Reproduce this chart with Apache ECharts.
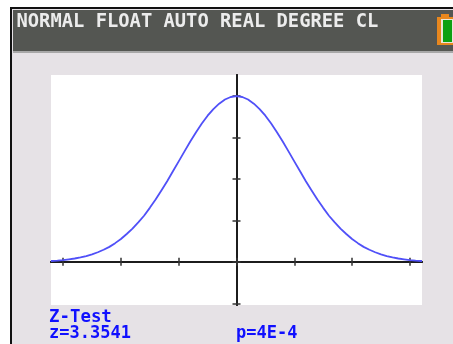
<!DOCTYPE html>
<html><head><meta charset="utf-8">
<style>html,body{margin:0;padding:0;background:#fff}#c{width:453px;height:344px}</style>
<script src="https://cdn.jsdelivr.net/npm/echarts@6/dist/echarts.min.js"></script>
</head><body><div id="c"></div>
<script>
const statusText = "NORMAL FLOAT AUTO REAL DEGREE CL";
const testName = "Z-Test";
const zText = "z=3.3541";
const pText = "p=4E-4";
const xValues = [-3.21,-3.1,-3,-2.9,-2.8,-2.7,-2.6,-2.5,-2.4,-2.3,-2.2,-2.1,-2,-1.9,-1.8,-1.7,-1.6,-1.5,-1.4,-1.3,-1.2,-1.1,-1,-0.9,-0.8,-0.7,-0.6,-0.5,-0.4,-0.3,-0.2,-0.1,0,0.1,0.2,0.3,0.4,0.5,0.6,0.7,0.8,0.9,1,1.1,1.2,1.3,1.4,1.5,1.6,1.7,1.8,1.9,2,2.1,2.2,2.3,2.4,2.5,2.6,2.7,2.8,2.9,3,3.1,3.21];
const yValues = [0.002,0.003,0.004,0.006,0.008,0.0105,0.014,0.018,0.023,0.029,0.036,0.045,0.055,0.067,0.08,0.095,0.111,0.13,0.15,0.172,0.194,0.218,0.242,0.266,0.29,0.312,0.333,0.352,0.368,0.381,0.391,0.397,0.399,0.397,0.391,0.381,0.368,0.352,0.333,0.312,0.29,0.266,0.242,0.218,0.194,0.172,0.15,0.13,0.111,0.095,0.08,0.067,0.055,0.045,0.036,0.029,0.023,0.018,0.014,0.0105,0.008,0.006,0.004,0.003,0.002];
const xTicks = [-3,-2,-1,0,1,2,3];
const yTicks = [-0.1,0,0.1,0.2,0.3,0.4];

const chart = echarts.init(document.getElementById('c'), null, {renderer:'canvas'});
const axisColor = '#1c1c1c';
const mono = '"DejaVu Sans Mono", monospace';
function xAx(inside){return {type:'value',min:-3.21,max:3.21,position:inside?'top':'bottom',
  axisLine:{show:true,onZero:true,lineStyle:{color:axisColor,width:2}},
  axisTick:{show:true,customValues:xTicks,length:4,lineStyle:{color:'#333',width:1.5}},
  axisLabel:{show:false},splitLine:{show:false}};}
function yAx(inside){return {type:'value',min:-0.104,max:0.45,position:inside?'right':'left',
  axisLine:{show:true,onZero:true,lineStyle:{color:axisColor,width:2}},
  axisTick:{show:true,customValues:yTicks,length:4,lineStyle:{color:'#333',width:1.5}},
  axisLabel:{show:false},splitLine:{show:false}};}
function txt(s,x,y,size,color){return {type:'text',z:-5,x:x,y:y,style:{text:s,font:'bold '+size+'px '+mono,fill:color,textVerticalAlign:'top'}};}
chart.setOption({
  animation:false,
  backgroundColor:'#ffffff',
  grid:{show:true,left:51,top:75,width:371,height:230,backgroundColor:'#ffffff',borderWidth:0},
  xAxis:[xAx(false),xAx(true)],
  yAxis:[yAx(false),yAx(true)],
  graphic:[
    {type:'rect',z:-20,shape:{x:10,y:7,width:443,height:337},style:{fill:'#111111'}},
    {type:'rect',z:-19,shape:{x:12,y:9,width:441,height:335},style:{fill:'#e6e2e6'}},
    {type:'rect',z:-18,shape:{x:13,y:10,width:440,height:42},style:{fill:'#545652'}},
    {type:'rect',z:-17,shape:{x:13,y:51,width:440,height:2},style:{fill:'#a8a8a8'}},
    {type:'rect',z:-16,shape:{x:441,y:14,width:8,height:4},style:{fill:'#e8871e'}},
    {type:'rect',z:-16,shape:{x:437,y:17,width:18,height:28},style:{fill:'#e8871e'}},
    {type:'rect',z:-15,shape:{x:441,y:19,width:14,height:24},style:{fill:'#e9e6d8'}},
    {type:'rect',z:-14,shape:{x:443,y:20,width:9,height:22},style:{fill:'#0ca012'}},
    txt(statusText,16.5,12.5,18.8,'#ececec'),
    txt(testName,49,309,17.4,'#1010ff'),
    txt(zText,49,325,17,'#1010ff'),
    txt(pText,236,325,17,'#1010ff')
  ],
  series:[{type:'line',xAxisIndex:0,yAxisIndex:0,smooth:false,showSymbol:false,clip:true,
    data:xValues.map((x,i)=>[x,yValues[i]]),
    lineStyle:{color:'#5050f8',width:1.8}}]
});
</script></body></html>
